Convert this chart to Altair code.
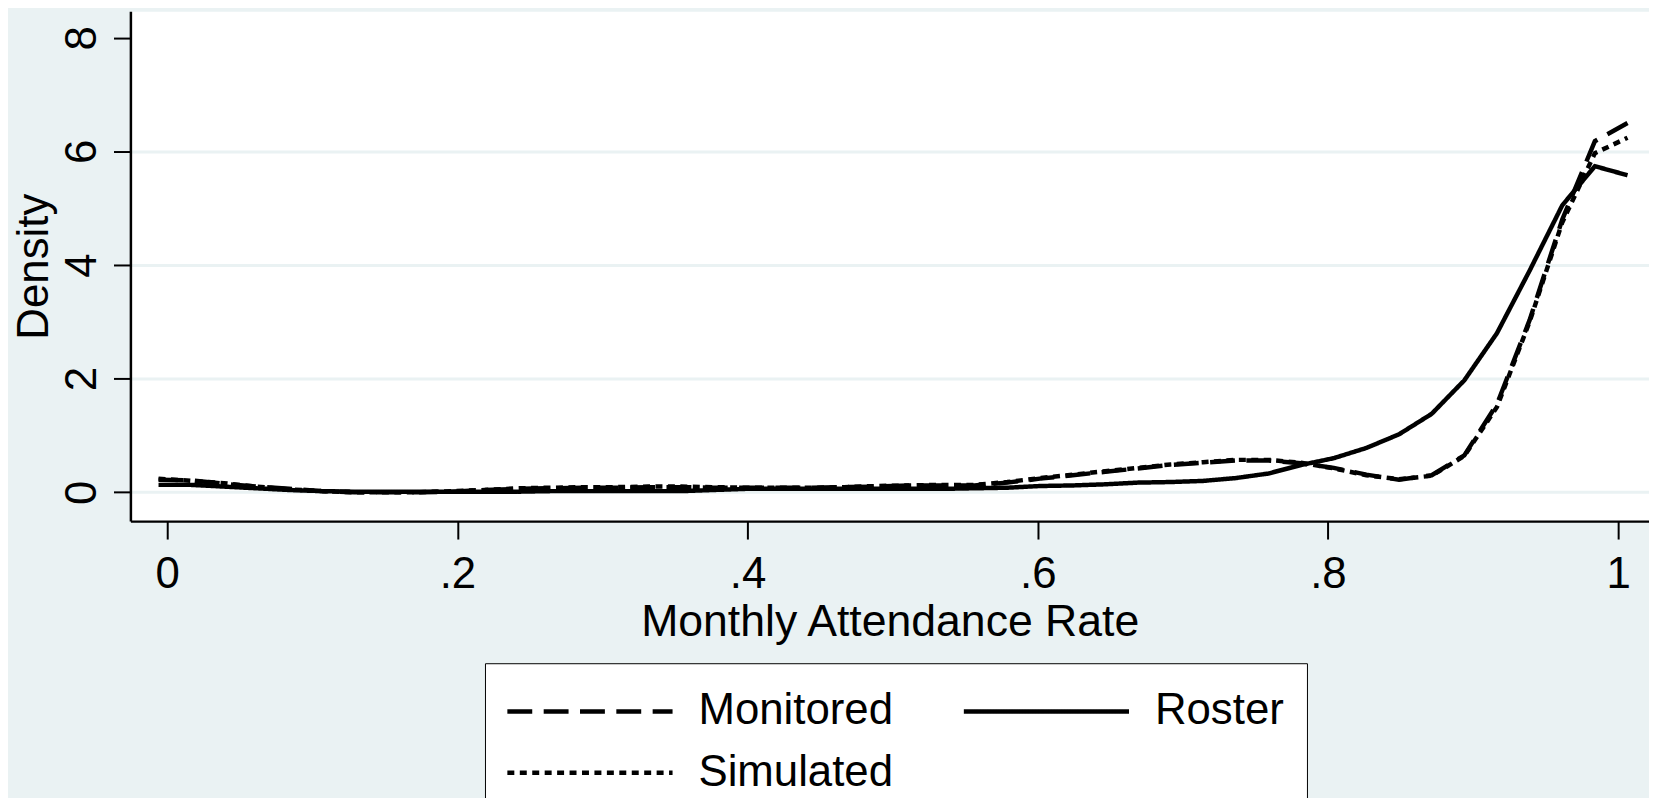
import altair as alt
import pandas as pd

# ---- data ----
x_grid = [-0.006, 0.0165, 0.039, 0.0615, 0.084, 0.1065, 0.129, 0.1515, 0.174, 0.1965,
          0.219, 0.2415, 0.264, 0.2865, 0.309, 0.3315, 0.354, 0.3765, 0.399, 0.4215,
          0.444, 0.4665, 0.489, 0.5115, 0.534, 0.5565, 0.579, 0.6015, 0.624, 0.6465,
          0.669, 0.6915, 0.714, 0.7365, 0.759, 0.7815, 0.804, 0.8265, 0.849, 0.8715,
          0.894, 0.9165, 0.939, 0.9615, 0.984, 1.0065]

monitored = [0.22, 0.21, 0.15, 0.10, 0.06, 0.02, 0.00, 0.00, 0.00, 0.01,
             0.04, 0.06, 0.07, 0.08, 0.08, 0.09, 0.09, 0.08, 0.08, 0.08,
             0.08, 0.09, 0.10, 0.12, 0.12, 0.12, 0.17, 0.24, 0.30, 0.36,
             0.42, 0.48, 0.52, 0.56, 0.56, 0.51, 0.43, 0.31, 0.22, 0.30,
             0.65, 1.55, 3.03, 4.80, 6.18, 6.50]

roster = [0.13, 0.13, 0.10, 0.07, 0.04, 0.02, 0.01, 0.01, 0.01, 0.01,
          0.01, 0.01, 0.02, 0.02, 0.02, 0.02, 0.02, 0.04, 0.06, 0.06,
          0.06, 0.06, 0.06, 0.06, 0.06, 0.07, 0.08, 0.11, 0.12, 0.14,
          0.17, 0.18, 0.20, 0.25, 0.33, 0.48, 0.60, 0.78, 1.02, 1.38,
          1.97, 2.80, 3.90, 5.05, 5.74, 5.58]

simulated = [0.24, 0.20, 0.16, 0.10, 0.05, 0.02, 0.00, 0.00, 0.00, 0.02,
             0.04, 0.07, 0.08, 0.09, 0.09, 0.10, 0.10, 0.09, 0.08, 0.08,
             0.08, 0.09, 0.11, 0.12, 0.13, 0.13, 0.18, 0.25, 0.31, 0.37,
             0.43, 0.49, 0.53, 0.57, 0.57, 0.52, 0.42, 0.30, 0.23, 0.29,
             0.64, 1.50, 3.00, 4.75, 5.97, 6.24]

series_names = ["Monitored", "Roster", "Simulated"]
x_ticks = [0, 0.2, 0.4, 0.6, 0.8, 1]
y_ticks = [0, 2, 4, 6, 8]

# ---- styles ----
dash_styles = [[25, 11.5], [1, 0], [7, 5.5]]
FONT = "Liberation Sans"
BG = "#EAF2F3"
LINE_W = 4.5

rows = []
for name, vals in zip(series_names, [monitored, roster, simulated]):
    for xv, yv in zip(x_grid, vals):
        rows.append({"series": name, "rate": xv, "density": yv})
df = pd.DataFrame(rows)

chart = alt.Chart(df).mark_line(strokeWidth=LINE_W, color="black").encode(
    x=alt.X(
        "rate:Q",
        scale=alt.Scale(domain=[-0.02538, 1.0213], nice=False, zero=False),
        axis=alt.Axis(
            values=x_ticks,
            labelExpr="datum.value == 0 ? '0' : datum.value == 1 ? '1' : slice(format(datum.value, '.1f'), 1)",
            title="Monthly Attendance Rate",
            titleFont=FONT, titleFontSize=44.8, titleFontWeight="normal", titleColor="black",
            titleBaseline="alphabetic", titleAlign="center", titleY=115,
            labelFont=FONT, labelFontSize=44, labelColor="black",
            labelBaseline="alphabetic", labelPadding=48.6, labelAlign="center",
            tickSize=18, tickWidth=2, tickColor="black",
            domainColor="black", domainWidth=2.5,
            grid=False, labelOverlap=False, labelFlush=False,
        ),
    ),
    y=alt.Y(
        "density:Q",
        scale=alt.Scale(domain=[-0.508, 8.468], nice=False, zero=False),
        axis=alt.Axis(
            values=y_ticks,
            title="Density",
            titleFont=FONT, titleFontSize=44, titleFontWeight="normal", titleColor="black",
            titleAngle=270, titleBaseline="alphabetic", titleAlign="center",
            titleX=-83.7, titleY=256.2,
            labelFont=FONT, labelFontSize=44, labelColor="black",
            labelAngle=270, labelAlign="center", labelBaseline="alphabetic",
            labelPadding=18, tickSize=17, tickWidth=2, tickColor="black",
            domainColor="black", domainWidth=2.5,
            grid=True, gridColor=BG, gridWidth=3,
            gridOpacity={"expr": "datum.value == 8 ? 0 : 1"},
            labelOverlap=False, labelFlush=False,
        ),
    ),
    strokeDash=alt.StrokeDash(
        "series:N",
        scale=alt.Scale(domain=series_names, range=dash_styles),
        legend=alt.Legend(
            title=None, orient="none", legendX=356.3, legendY=655.2,
            columns=2, direction="horizontal",
            symbolType="M-1.095,0H5.895", symbolSize=2256, symbolStrokeWidth=LINE_W,
            symbolStrokeColor="black", symbolFillColor="transparent",
            labelFont=FONT, labelFontSize=44, labelColor="black", labelLimit=0,
            labelOffset=140, columnPadding=60.7, rowPadding=13.5, padding=22.5,
            strokeColor="black", fillColor="white",
        ),
    ),
).properties(
    width=1526,
    height=512.4,
    background=BG,
    padding={"left": 123, "top": 1.3, "right": 0, "bottom": 276.3},
    autosize=alt.AutoSizeParams(type="none"),
).configure_view(
    fill="white", stroke="transparent"
)

chart.save("out.html", embed_options={"renderer": "svg", "actions": False})
